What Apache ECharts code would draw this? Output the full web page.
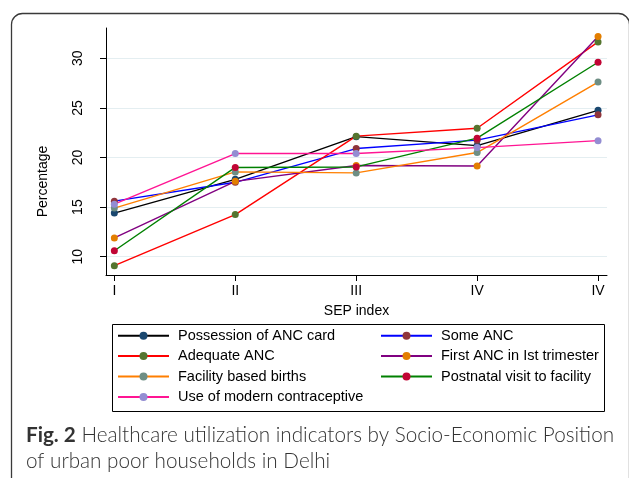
<!DOCTYPE html>
<html>
<head>
<meta charset="utf-8">
<script src="https://cdn.jsdelivr.net/npm/echarts@6/dist/echarts.min.js"></script>
<style>
html,body{margin:0;padding:0;background:#fff;}
#chart{width:629px;height:478px;}
</style>
</head>
<body>
<div id="chart"></div>
<script>
const categories = ['I', 'II', 'III', 'IV', 'IV'];
const yTicks = [10, 15, 20, 25, 30];

const possessionANCCard = [14.4, 17.8, 22.1, 21.2, 24.75];
const someANC = [15.6, 17.5, 20.9, 21.75, 24.3];
const adequateANC = [9.1, 14.25, 22.15, 22.95, 31.65];
const firstANCIstTrimester = [11.9, 17.6, 19.2, 19.15, 32.2];
const facilityBasedBirths = [14.9, 18.55, 18.45, 20.5, 27.6];
const postnatalVisit = [10.6, 19.0, 19.05, 21.95, 29.6];
const modernContraceptive = [15.3, 20.4, 20.4, 21.0, 21.7];

const seriesDefs = [
  {name: 'Possession of ANC card', data: possessionANCCard, line: '#000000', marker: '#1a476f'},
  {name: 'Some ANC', data: someANC, line: '#0000ff', marker: '#90353b'},
  {name: 'Adequate ANC', data: adequateANC, line: '#ff0000', marker: '#55752f'},
  {name: 'First ANC in Ist trimester', data: firstANCIstTrimester, line: '#800080', marker: '#e37e00'},
  {name: 'Facility based births', data: facilityBasedBirths, line: '#ff7f00', marker: '#6e8e84'},
  {name: 'Postnatal visit to facility', data: postnatalVisit, line: '#008000', marker: '#c10534'},
  {name: 'Use of modern contraceptive', data: modernContraceptive, line: '#ff1493', marker: '#938dd2'}
];

const chart = echarts.init(document.getElementById('chart'));
const FONT = '"Liberation Sans", Arial, sans-serif';

const legendCommon = {
  orient: 'vertical',
  padding: 0,
  itemGap: 4.4,
  itemWidth: 51,
  itemHeight: 10,
  textStyle: {fontFamily: FONT, fontSize: 14.5, color: '#000', lineHeight: 16, padding: [0, 0, 0, 4]}
};

const option = {
  animation: false,
  backgroundColor: '#ffffff',
  graphic: [{
    type: 'rect',
    left: 9, top: 11,
    shape: {width: 618, height: 520, r: 11},
    style: {fill: 'none', stroke: '#3a3a3a', lineWidth: 1.3},
    z: -1
  }, {
    type: 'rect',
    left: 110, top: 322,
    shape: {width: 492, height: 87},
    style: {fill: 'none', stroke: '#000', lineWidth: 1},
    z: -1
  }],
  title: {
    left: 21, top: 417,
    text: '{b|Fig. 2} Healthcare utilization indicators by Socio-Economic Position\nof urban poor households in Delhi',
    textStyle: {
      fontFamily: 'Lato, "Open Sans", sans-serif',
      fontSize: 20.7, fontWeight: 300, color: '#333', lineHeight: 26.5,
      rich: {b: {fontFamily: 'Lato, "Open Sans", sans-serif', fontSize: 20.7, fontWeight: 'bold', color: '#333', lineHeight: 26.5}}
    }
  },
  grid: {left: 106, right: 22, top: 28, bottom: 203, containLabel: false},
  xAxis: {
    type: 'value',
    min: -0.069, max: 4.074,
    name: 'SEP index',
    nameLocation: 'middle',
    nameGap: 29,
    nameTextStyle: {fontFamily: FONT, fontSize: 14, color: '#000'},
    axisLine: {show: true, onZero: false, lineStyle: {color: '#000', width: 1}},
    axisTick: {show: true, length: 6, customValues: [0, 1, 2, 3, 4], lineStyle: {color: '#000'}},
    axisLabel: {
      customValues: [0, 1, 2, 3, 4],
      formatter: v => categories[Math.round(v)],
      fontFamily: FONT, fontSize: 14, color: '#000', margin: 9
    },
    splitLine: {show: false}
  },
  yAxis: {
    type: 'value',
    min: 8.16, max: 33.05,
    name: 'Percentage',
    nameLocation: 'middle',
    nameGap: 56,
    nameRotate: 90,
    nameTextStyle: {fontFamily: FONT, fontSize: 14, color: '#000', padding: [0, 60, 0, 0]},
    axisLine: {show: true, onZero: false, lineStyle: {color: '#000', width: 1}},
    axisTick: {show: true, length: 6, customValues: yTicks, lineStyle: {color: '#000'}},
    axisLabel: {
      customValues: yTicks,
      rotate: 90,
      fontFamily: FONT, fontSize: 14, color: '#000', margin: 21
    },
    splitLine: {show: true, lineStyle: {color: '#e4eef1', width: 1}}
  },
  legend: [
    Object.assign({left: 117, top: 327.7, data: seriesDefs.filter((s, i) => i % 2 === 0).map(s => s.name)}, legendCommon),
    Object.assign({left: 380, top: 327.7, data: seriesDefs.filter((s, i) => i % 2 === 1).map(s => s.name)}, legendCommon)
  ],
  series: seriesDefs.map(s => ({
    name: s.name,
    type: 'line',
    data: s.data.map((v, i) => [i, v]),
    symbol: 'circle',
    symbolSize: 7,
    clip: false,
    lineStyle: {color: s.line, width: 1.4},
    itemStyle: {color: s.marker, borderWidth: 0},
    emphasis: {disabled: true}
  }))
};
chart.setOption(option);
</script>
</body>
</html>
